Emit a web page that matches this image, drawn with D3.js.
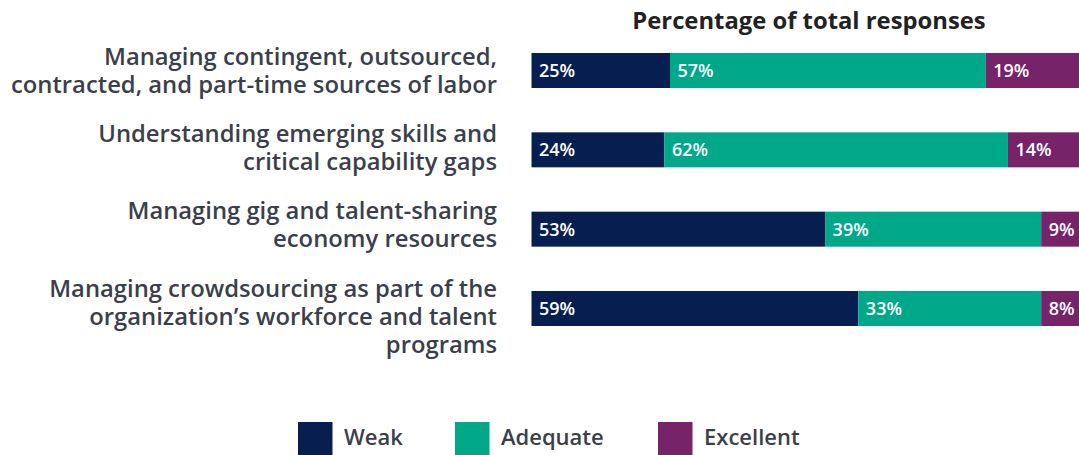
<!DOCTYPE html>
<meta charset="utf-8">
<style>
  body { margin: 0; background: #fff; overflow: hidden; }
  text { font-family: "Open Sans", sans-serif; }
</style>
<body>
<script src="https://cdn.jsdelivr.net/npm/d3@7"></script>
<script>

    var width = 1079,
        height = 455;

    // data
    var categories = [
        ["Managing contingent, outsourced,", "contracted, and part-time sources of labor"],
        ["Understanding emerging skills and", "critical capability gaps"],
        ["Managing gig and talent-sharing", "economy resources"],
        ["Managing crowdsourcing as part of the", "organization\u2019s workforce and talent", "programs"]
    ];
    var seriesNames = ["Weak", "Adequate", "Excellent"];
    var weak = [25, 24, 53, 59];
    var adequate = [57, 62, 39, 33];
    var excellent = [19, 14, 9, 8];
    var seriesColors = ["#071f50", "#00a88a", "#762369"];
    var titleText = "Percentage of total responses";

    var rows = categories.map(function(c, i) {
        return { label: c, values: [weak[i], adequate[i], excellent[i]] };
    });

    var svg = d3.select("body").append("svg")
            .attr("width", width)
            .attr("height", height);

    // plot runs a little past the right edge of the picture (cropped)
    var x = d3.scaleLinear().domain([0, 100]).range([531.5, 1085.5]);
    var bw = 35;

    // top of each bar
    var y = d3.scalePoint()
            .domain(d3.range(rows.length))
            .range([53, 291]);
    // first baseline of each category label
    var yLabel = d3.scalePoint()
            .domain(d3.range(rows.length))
            .range([65, 296.5]);

    var color = d3.scaleOrdinal().domain(seriesNames).range(seriesColors);

    // title
    svg.append("text")
            .attr("x", 809)
            .attr("y", 28.5)
            .attr("text-anchor", "middle")
            .attr("font-size", 23.8)
            .attr("font-weight", 700)
            .attr("fill", "#222")
            .text(titleText);

    var row = svg.selectAll("g.row")
            .data(rows)
            .enter().append("g")
            .attr("class", "row");

    row.each(function(d, i) {
        var g = d3.select(this);
        var stackStart = d3.cumsum([0].concat(d.values));
        var yTop = y(i);

        d.values.forEach(function(v, j) {
            g.append("rect")
                    .attr("x", x(stackStart[j]))
                    .attr("y", yTop)
                    .attr("width", x(stackStart[j] + v) - x(stackStart[j]))
                    .attr("height", bw)
                    .attr("fill", color(seriesNames[j]));
            g.append("text")
                    .attr("x", x(stackStart[j]) + 7.5)
                    .attr("y", yTop + bw / 2)
                    .attr("dy", "0.36em")
                    .attr("font-size", 18)
                    .attr("font-weight", 600)
                    .attr("fill", "#fff")
                    .text(v + "%");
        });

        // category label
        var lh = 28;
        var t = g.append("text")
                .attr("text-anchor", "end")
                .attr("font-size", 23.8)
                .attr("font-weight", 600)
                .attr("fill", "#3b3f4b");
        d.label.forEach(function(line, k) {
            t.append("tspan")
                    .attr("x", 497)
                    .attr("y", yLabel(i) + k * lh)
                    .text(line);
        });
    });

    // legend
    var legendX = [298, 455, 658];
    var legend = svg.selectAll("g.legend")
            .data(seriesNames)
            .enter().append("g")
            .attr("class", "legend")
            .attr("transform", function(d, i) { return "translate(" + legendX[i] + ",422)"; });

    legend.append("rect")
            .attr("width", 34.5)
            .attr("height", 34)
            .attr("fill", function(d) { return color(d); });

    legend.append("text")
            .attr("x", 46)
            .attr("y", 23)
            .attr("font-size", 22)
            .attr("font-weight", 600)
            .attr("fill", "#3b3f4b")
            .text(function(d) { return d; });

</script>
